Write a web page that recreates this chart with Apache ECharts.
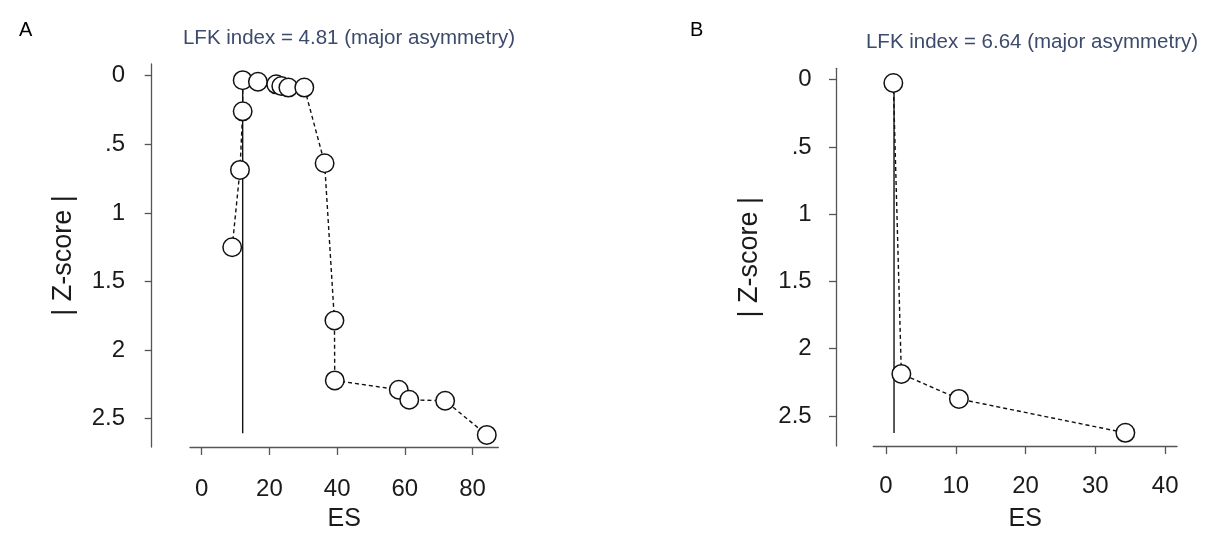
<!DOCTYPE html>
<html>
<head>
<meta charset="utf-8">
<script src="https://cdn.jsdelivr.net/npm/echarts@6/dist/echarts.min.js"></script>
<style>
  html, body { margin: 0; padding: 0; background: #fff; }
  #main { width: 1207px; height: 537px; }
</style>
</head>
<body>
<div id="main"></div>
<script>
// ticks shared by both panels
const yTicks = [0, 0.5, 1, 1.5, 2, 2.5]
const yTickLabels = ['0', '.5', '1', '1.5', '2', '2.5']

// panel A
const aTitle = 'LFK index = 4.81 (major asymmetry)'
const aXTicks = [0, 20, 40, 60, 80]
const aEs = [9.0, 11.3, 12.1, 12.1, 16.6, 22.0, 23.5, 25.6, 30.3, 36.3, 39.2, 39.3, 58.2, 61.3, 71.9, 84.2]
const aZ = [1.25, 0.687, 0.26, 0.033, 0.044, 0.063, 0.075, 0.087, 0.087, 0.638, 1.784, 2.221, 2.289, 2.362, 2.369, 2.618]
const aRefEs = [12.1, 12.1]
const aRefZ = [0.033, 2.606]

// panel B
const bTitle = 'LFK index = 6.64 (major asymmetry)'
const bXTicks = [0, 10, 20, 30, 40]
const bEs = [1.05, 2.2, 10.45, 34.3]
const bZ = [0.024, 2.188, 2.374, 2.626]
const bRefEs = [1.15, 1.15]
const bRefZ = [0.024, 2.627]

const font = "'Liberation Sans', Arial, sans-serif"
const axisColor = '#555'
const textColor = '#1a1a1a'

function pairs(xs, ys) {
  let out = []
  for (let i = 0; i < xs.length; i++) out.push([xs[i], ys[i]])
  return out
}

function xAxisFor(idx, min, max, ticks, margin, gap) {
  return {
    gridIndex: idx,
    type: 'value',
    min: min,
    max: max,
    name: 'ES',
    nameLocation: 'middle',
    nameGap: gap,
    nameTextStyle: { fontSize: 25, color: textColor, fontFamily: font },
    axisLine: { show: true, onZero: false, lineStyle: { color: axisColor, width: 1.3 } },
    axisTick: { show: true, length: 8, customValues: ticks, lineStyle: { color: axisColor, width: 1.3 } },
    axisLabel: { customValues: ticks, margin: margin, fontSize: 24, color: textColor, fontFamily: font },
    splitLine: { show: false }
  }
}

function yAxisFor(idx, min, max, offset, margin, gap) {
  return {
    gridIndex: idx,
    type: 'value',
    inverse: true,
    min: min,
    max: max,
    offset: offset,
    name: '| Z-score |',
    nameLocation: 'middle',
    nameGap: gap,
    nameTextStyle: { fontSize: 27, color: textColor, fontFamily: font },
    axisLine: { show: true, onZero: false, lineStyle: { color: axisColor, width: 1.3 } },
    axisTick: { show: true, length: 7, customValues: yTicks, lineStyle: { color: axisColor, width: 1.3 } },
    axisLabel: {
      customValues: yTicks,
      margin: margin,
      fontSize: 24,
      color: textColor,
      fontFamily: font,
      formatter: v => {
        let i = yTicks.indexOf(v)
        return i >= 0 ? yTickLabels[i] : String(v)
      }
    },
    splitLine: { show: false }
  }
}

function doiSeries(idx, es, z) {
  return {
    type: 'line',
    xAxisIndex: idx,
    yAxisIndex: idx,
    data: pairs(es, z),
    z: 3,
    symbol: 'circle',
    symbolSize: 18.5,
    itemStyle: { color: '#fff', borderColor: '#111', borderWidth: 1.5 },
    lineStyle: { color: '#111', width: 1.4, type: [4, 3] },
    animation: false
  }
}

function refSeries(idx, es, z) {
  return {
    type: 'line',
    xAxisIndex: idx,
    yAxisIndex: idx,
    data: pairs(es, z),
    z: 2,
    symbol: 'none',
    lineStyle: { color: '#111', width: 1.4 },
    animation: false
  }
}

const chart = echarts.init(document.getElementById('main'))

chart.setOption({
  backgroundColor: '#fff',
  animation: false,
  title: [
    { text: 'A', left: 14, top: 15, textStyle: { fontSize: 20, fontWeight: 'normal', color: '#000', fontFamily: font } },
    { text: 'B', left: 685, top: 15, textStyle: { fontSize: 20, fontWeight: 'normal', color: '#000', fontFamily: font } },
    { text: aTitle, left: 344, top: 23, textAlign: 'center', textStyle: { fontSize: 20.5, fontWeight: 'normal', color: '#3c4a6b', fontFamily: font } },
    { text: bTitle, left: 1027, top: 27, textAlign: 'center', textStyle: { fontSize: 20.5, fontWeight: 'normal', color: '#3c4a6b', fontFamily: font } }
  ],
  grid: [
    { left: 190, top: 64, width: 308.3, height: 394.3 },
    { left: 873.3, top: 68.3, width: 303.7, height: 388.4 }
  ],
  xAxis: [
    xAxisFor(0, -3.46, 87.6, aXTicks, 30, 60),
    xAxisFor(1, -1.82, 41.7, bXTicks, 28, 61)
  ],
  yAxis: [
    yAxisFor(0, -0.085, 2.706, 38.3, 26.7, 75),
    yAxisFor(1, -0.085, 2.724, 37.3, 24.3, 73)
  ],
  series: [
    refSeries(0, aRefEs, aRefZ),
    doiSeries(0, aEs, aZ),
    refSeries(1, bRefEs, bRefZ),
    doiSeries(1, bEs, bZ)
  ]
})
</script>
</body>
</html>
